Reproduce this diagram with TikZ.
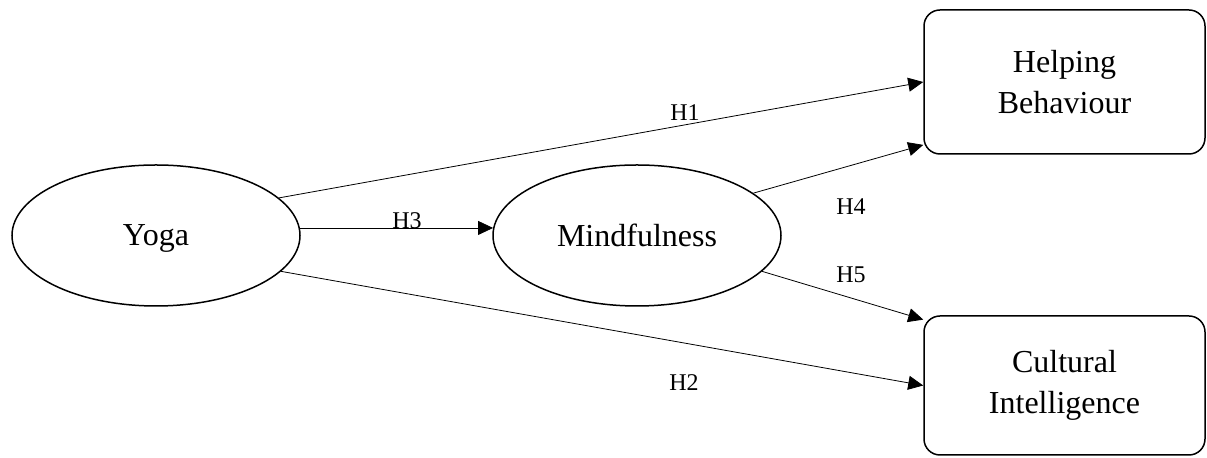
\documentclass[tikz,border=0pt]{standalone}
\usepackage{fontspec}
\setmainfont{Liberation Serif}
\usetikzlibrary{shapes.geometric,arrows.meta}
\tikzset{>={Triangle[length=7.5pt,width=7pt]}}

\begin{document}
\begin{tikzpicture}[x=0.5pt,y=-0.5pt,
  every node/.style={font=\fontsize{16}{20.5}\selectfont},
  construct/.style={ellipse,draw,line width=0.75pt,minimum width=144pt,minimum height=70.5pt,inner sep=0pt,text depth=0pt},
  outcome/.style={rectangle,draw,rounded corners=8pt,line width=0.75pt,minimum width=140.5pt,align=center,inner sep=0pt},
  link/.style={->,line width=0.4pt},
  hyp/.style={font=\fontsize{12}{14}\selectfont,inner sep=0pt}]
\useasboundingbox (0,0) rectangle (1207,458);
\node[construct] (Y) at (156,235.5) {Yoga};
\node[construct] (M) at (637,235.5) {Mindfulness};
\node[outcome,minimum height=72pt] (HB) at (1064.5,82) {Helping\\Behaviour};
\node[outcome,minimum height=69.5pt] (CI) at (1064.5,385.5) {Cultural\\Intelligence};
\draw[link] (Y.17) -- (HB.west);
\draw[link] (Y.3) -- (M.177);
\draw[link] (Y.-16) -- (CI.west);
\draw[link] (M.20) -- (HB.204);
\draw[link] (M.-16) -- (CI.155.5);
\node[hyp] (H1) at (685,113) {H1};
\node[hyp] (H2) at (684,383) {H2};
\node[hyp] (H3) at (407,221) {H3};
\node[hyp] (H4) at (851,207) {H4};
\node[hyp] (H5) at (851,275) {H5};
\end{tikzpicture}
\end{document}
